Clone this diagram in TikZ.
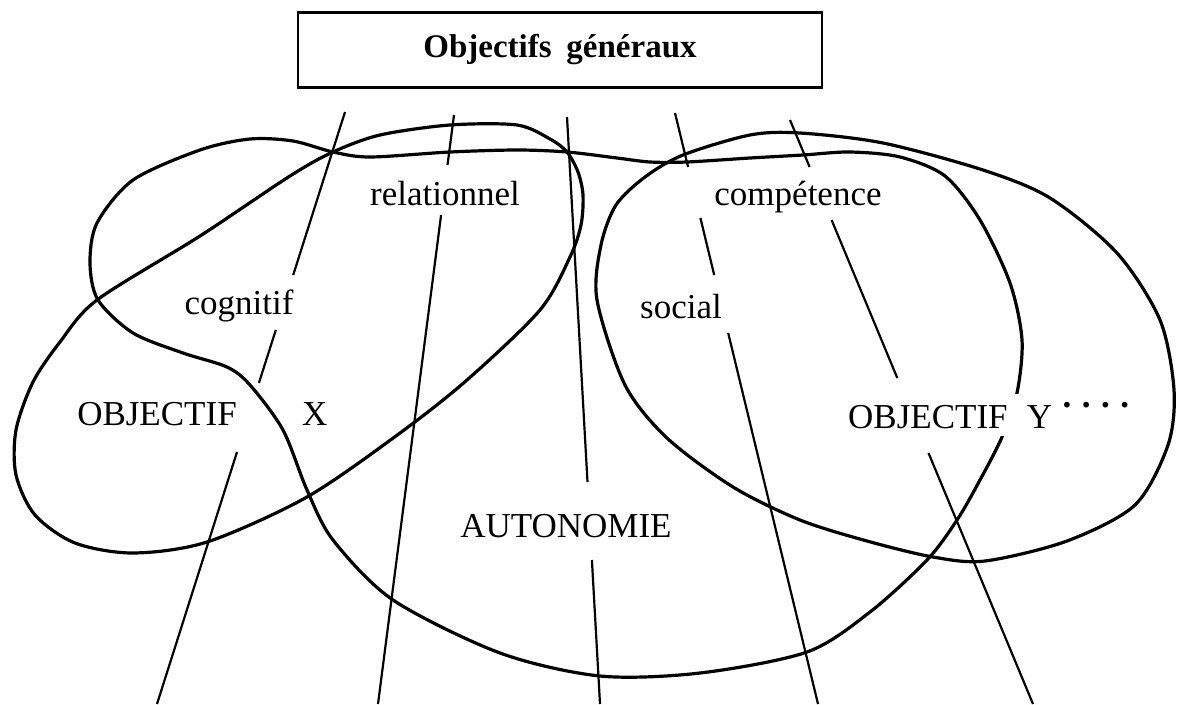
\documentclass[tikz,border=0pt]{standalone}
\usepackage{fontspec}
\setmainfont{Liberation Serif}
\usetikzlibrary{positioning}

\tikzset{
  blob/.style={line width=3.2pt, line join=round},
  spoke/.style={line width=2.2pt},
  lbl/.style={font=\fontsize{35}{40}\selectfont, inner sep=0pt, anchor=base},
}

\begin{document}
\begin{tikzpicture}[x=1pt, y=-1pt]
  \useasboundingbox (0,0) rectangle (1177,704);

  \node[draw, line width=2.6pt, minimum width=524pt, minimum height=75pt,
        font=\fontsize{33}{38}\selectfont\bfseries] (gen) at (560,50)
        {Objectifs\hspace{.45em}généraux};

  % objectif X
  \draw[blob] plot[smooth cycle] coordinates {
    (33,382) (60,342) (97,300) (200,236) (290,176) (333,152) (380,135)
    (450,125) (517,125) (550,139) (567,152) (578,172) (583,195) (581,225)
    (570,257) (540,310) (467,380) (400,433) (307,497) (207,542) (133,553)
    (75,543) (35,515) (16,475) (16,430)};
  % autonomie
  \draw[blob] plot[smooth cycle] coordinates {
    (133,180) (200,150) (250,139) (293,141) (333,152) (370,157) (450,152)
    (517,150) (567,152) (617,158) (650,162) (687,162) (750,158) (803,155)
    (850,152) (900,157) (945,176) (980,220) (1010,283) (1022,340) (1017,393)
    (1002,437) (980,480) (957,520) (927,560) (870,612) (807,652) (700,673)
    (600,676) (500,653) (393,600) (333,540) (307,490) (283,430) (250,385)
    (227,367) (183,353) (133,333) (98,300) (90,263) (97,223)};
  % objectif Y
  \draw[blob] plot[smooth cycle] coordinates {
    (597,300) (601,245) (616,205) (645,177) (683,155) (750,135) (800,133)
    (883,143) (983,170) (1050,198) (1117,253) (1160,320) (1174,390)
    (1168,445) (1135,505) (1067,541) (985,561) (933,557) (867,541)
    (800,520) (733,487) (667,438) (625,385)};

  % spokes
  \coordinate (t-1) at (345,112);
  \coordinate (t-2) at (454,115);
  \coordinate (t-3) at (567,117);
  \coordinate (t-4) at (675,113);
  \coordinate (t-5) at (790,120);
  \coordinate (b-1) at (157,704);
  \coordinate (b-2) at (378,704);
  \coordinate (b-3) at (600,704);
  \coordinate (b-4) at (818,704);
  \coordinate (b-5) at (1033,704);
  \coordinate (g-1-1) at (293.2,275);
  \coordinate (g-1-2) at (275.8,330);
  \coordinate (g-1-3) at (258.9,383);
  \coordinate (g-1-4) at (237,452);
  \coordinate (g-2-1) at (447.5,165);
  \coordinate (g-2-2) at (441.1,215);
  \coordinate (g-3-1) at (587.5,482);
  \coordinate (g-3-2) at (591.9,560);
  \coordinate (g-4-1) at (688.1,167);
  \coordinate (g-4-2) at (700.4,218);
  \coordinate (g-4-3) at (714.2,275);
  \coordinate (g-4-4) at (728.2,333);
  \coordinate (g-5-1) at (809.6,167);
  \coordinate (g-5-2) at (831.6,220);
  \coordinate (g-5-3) at (897.3,378);
  \coordinate (g-5-4) at (928.5,453);

  \draw[spoke] (t-1) -- (g-1-1) (g-1-2) -- (g-1-3) (g-1-4) -- (b-1);
  \draw[spoke] (t-2) -- (g-2-1) (g-2-2) -- (b-2);
  \draw[spoke] (t-3) -- (g-3-1) (g-3-2) -- (b-3);
  \draw[spoke] (t-4) -- (g-4-1) (g-4-2) -- (g-4-3) (g-4-4) -- (b-4);
  \draw[spoke] (t-5) -- (g-5-1) (g-5-2) -- (g-5-3) (g-5-4) -- (b-5);

  % labels
  \node[lbl] (cog) at (239,314) {cognitif};
  \node[lbl] (rel) at (445,205) {relationnel};
  \node[lbl] (comp) at (798,205) {compétence};
  \node[lbl] (soc) at (681,318) {social};
  \node[lbl] (objx) at (157,425) {OBJECTIF};
  \node[lbl, base right=65pt of objx] (x) {X};
  \node[lbl] (auto) at (566,537) {AUTONOMIE};
  \node[lbl, anchor=base west, inner ysep=8pt, fill=white] (objy) at (848,428)
    {OBJECTIF\hspace{.55em}Y\hspace{.3em}\raisebox{.6em}{\bfseries.\hspace{.3em}.\hspace{.3em}.\hspace{.3em}.}};
\end{tikzpicture}
\end{document}
